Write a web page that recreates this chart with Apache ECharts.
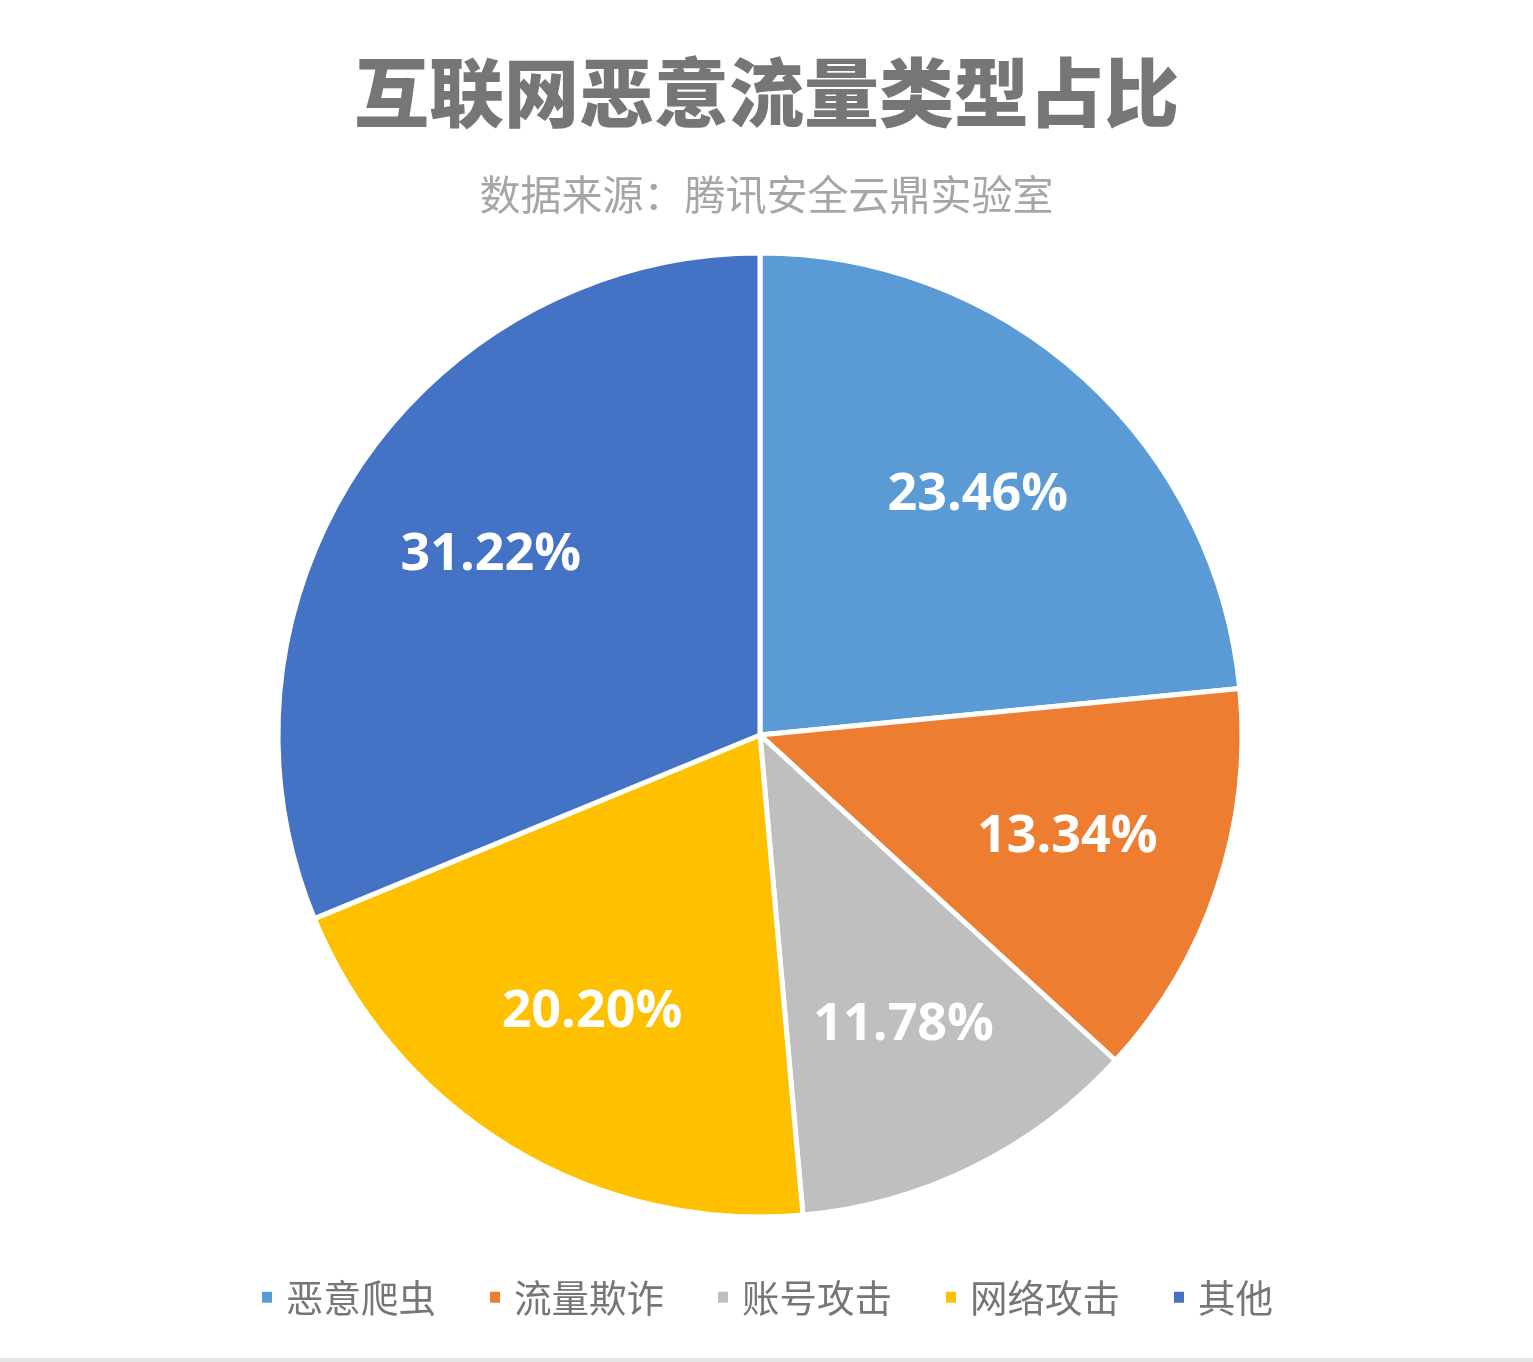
<!DOCTYPE html>
<html>
<head>
<meta charset="utf-8">
<script src="https://cdn.jsdelivr.net/npm/echarts@6/dist/echarts.min.js"></script>
<style>
html,body{margin:0;padding:0;background:#fff;}
#chart{width:1533px;height:1362px;}
</style>
</head>
<body>
<div id="chart"></div>
<script>
const titleText = '互联网恶意流量类型占比';
const subtitleText = '数据来源：腾讯安全云鼎实验室';
const categories = ['恶意爬虫', '流量欺诈', '账号攻击', '网络攻击', '其他'];
const values = [23.46, 13.34, 11.78, 20.20, 31.22];
const colors = ['#5B9BD5', '#ED7D31', '#BFBFBF', '#FFC000', '#4472C4'];

const pieData = categories.map((c, i) => ({ name: c, value: values[i], itemStyle: { color: colors[i] } }));
const labelData = categories.map((c, i) => ({ name: c, value: values[i] }));

const chart = echarts.init(document.getElementById('chart'), null, { renderer: 'canvas' });
chart.setOption({
  backgroundColor: '#ffffff',
  animation: false,
  color: colors,
  title: [
    { text: titleText, left: 'center', top: 50,
      textStyle: { fontFamily: 'Noto Sans CJK SC', fontWeight: 900, fontSize: 75, color: '#767676' } },
    { text: subtitleText, left: 'center', top: 169,
      textStyle: { fontFamily: 'Noto Sans CJK SC', fontWeight: 'normal', fontSize: 41, color: '#a6a6a6' } }
  ],
  legend: {
    bottom: 41, left: 'center',
    icon: 'rect', itemWidth: 12, itemHeight: 13, itemGap: 52,
    textStyle: { fontFamily: 'Noto Sans CJK SC', fontSize: 37.5, color: '#767676', padding: [0, 0, 0, 8] },
    data: categories.map((c, i) => ({ name: c, itemStyle: { color: colors[i] } }))
  },
  graphic: [
    { type: 'rect', left: 0, bottom: 0, shape: { width: 1533, height: 4 }, style: { fill: '#e6e6e6' } }
  ],
  series: [
    {
      type: 'pie', center: [760, 735], radius: [0, 482], startAngle: 90, clockwise: true,
      silent: true, legendHoverLink: false,
      itemStyle: { borderColor: '#ffffff', borderWidth: 5 },
      label: { show: false }, labelLine: { show: false },
      data: pieData
    },
    {
      type: 'pie', center: [760, 735], radius: [160, 482], startAngle: 90, clockwise: true,
      silent: true, legendHoverLink: false,
      itemStyle: { color: 'rgba(0,0,0,0)', borderWidth: 0 },
      label: {
        show: true, position: 'inside',
        formatter: p => p.value.toFixed(2) + '%',
        fontFamily: 'Open Sans', fontWeight: 'bold', fontSize: 52, color: '#ffffff'
      },
      labelLine: { show: false },
      data: labelData
    }
  ]
});
</script>
</body>
</html>
